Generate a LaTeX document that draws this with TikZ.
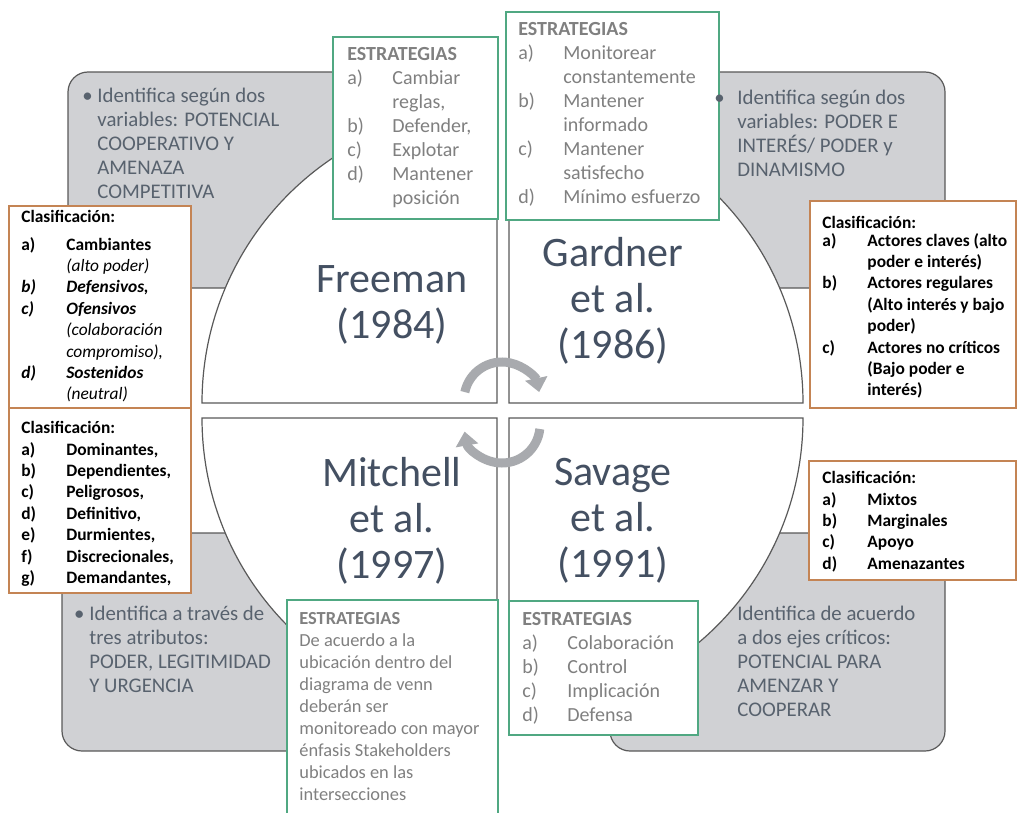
\documentclass[tikz,border=0pt]{standalone}
\usepackage{fontspec}
\setmainfont{Carlito}
\usetikzlibrary{arrows.meta}

\definecolor{panelgray}{RGB}{208,209,212}
\definecolor{edgegray}{RGB}{89,89,89}
\definecolor{stratgreen}{RGB}{80,168,130}
\definecolor{clasorange}{RGB}{196,132,84}
\definecolor{slatetext}{RGB}{88,98,110}
\definecolor{titletext}{RGB}{68,80,98}
\definecolor{strattext}{RGB}{128,128,128}
\definecolor{cyclegray}{RGB}{168,170,174}

\newcommand{\lbl}[1]{\makebox[22.5pt][l]{#1}}
\newcommand{\bul}[1]{\llap{•\hspace{#1}}}
\newcommand{\noteit}[1]{{\mdseries\itshape #1}}
\newcommand{\strongit}[1]{{\itshape #1}}

\tikzset{
    panel/.style={fill=panelgray, draw=edgegray, line width=0.6pt, rounded corners=10pt},
    quad/.style={fill=white, draw=edgegray, line width=0.6pt},
    stratbox/.style={fill=white, draw=stratgreen, line width=0.6pt},
    clasbox/.style={fill=white, draw=clasorange, line width=0.6pt},
    paneltext/.style={anchor=north west, inner sep=0pt, align=left, text=slatetext,
        font=\fontsize{10.4}{11.9}\selectfont},
    quadtitle/.style={anchor=north, inner sep=0pt, align=center, text=titletext,
        font=\fontsize{21}{23}\selectfont},
    strattext/.style={anchor=north west, inner sep=0pt, align=left, text=strattext,
        font=\fontsize{10}{12}\selectfont},
    clastext/.style={anchor=north west, inner sep=0pt, align=left, text=black,
        font=\fontsize{8.7}{10.7}\selectfont\bfseries},
    cyclearrow/.style={draw=cyclegray, line width=4.5pt, -{Triangle[length=7pt, width=11pt]}}
}

\begin{document}
\begin{tikzpicture}[x=0.5pt, y=-0.5pt]
    \useasboundingbox (0,0) rectangle (1018,813);

    % grey panels behind the circle
    \draw[panel] (68,72) rectangle (440,288);
    \draw[panel] (570,72) rectangle (945,288);
    \draw[panel] (62,533) rectangle (440,751);
    \draw[panel] (610,533) rectangle (945,751);

    % four quarters of the circle
    \foreach \cx/\cy/\s/\e/\r in {497/403/-90/-180/295, 509/403/-90/0/294, 497/418/180/90/295, 509/418/90/0/294} {
        \draw[quad] (\cx,\cy) -- ++(\s:\r) arc[start angle=\s, end angle=\e, radius=\r] -- cycle;
    }

    \node[quadtitle] (freeman) at (392,265) {Freeman\\(1984)};
    \node[quadtitle] (gardner) at (613,237) {Gardner\\et al.\\(1986)};
    \node[quadtitle] (mitchell) at (392,457) {Mitchell\\et al.\\(1997)};
    \node[quadtitle] (savage) at (613,458) {Savage\\et al.\\(1991)};

    % strategies
    \draw[stratbox] (333,37) rectangle (498,219);
    \draw[stratbox] (506,12) rectangle (719,220);
    \draw[stratbox] (287,600) rectangle (498,820);
    \draw[stratbox] (509,601) rectangle (698,735);

    \node[strattext] (freemanstrat) at (347,47) {\textbf{ESTRATEGIAS}\\\lbl{a)}Cambiar\\\lbl{}reglas,\\\lbl{b)}Defender,\\\lbl{c)}Explotar\\\lbl{d)}Mantener\\\lbl{}posición};
    \node[strattext] (gardnerstrat) at (518,22) {\textbf{ESTRATEGIAS}\\\lbl{a)}Monitorear\\\lbl{}constantemente\\\lbl{b)}Mantener\\\lbl{}informado\\\lbl{c)}Mantener\\\lbl{}satisfecho\\\lbl{d)}Mínimo esfuerzo};
    \node[strattext, font=\fontsize{9.2}{11}\selectfont] (mitchellstrat) at (299,612) {\textbf{ESTRATEGIAS}\\De acuerdo a la\\ubicación dentro del\\diagrama de venn\\deberán ser\\monitoreado con mayor\\énfasis Stakeholders\\ubicados en las\\intersecciones};
    \node[strattext] (savagestrat) at (522,612) {\textbf{ESTRATEGIAS}\\\lbl{a)}Colaboración\\\lbl{b)}Control\\\lbl{c)}Implicación\\\lbl{d)}Defensa};

    \node[paneltext] (freemantext) at (97,88) {\bul{2.3pt}Identifica según dos\\variables: POTENCIAL\\COOPERATIVO Y\\AMENAZA\\COMPETITIVA};
    \node[paneltext] (gardnertext) at (737,90) {\bul{6.3pt}Identifica según dos\\variables: PODER E\\INTERÉS/ PODER y\\DINAMISMO};
    \node[paneltext] (mitchelltext) at (89,606) {\bul{2.5pt}Identifica a través de\\tres atributos:\\PODER, LEGITIMIDAD\\Y URGENCIA};
    \node[paneltext] (savagetext) at (737,606) {Identifica de acuerdo\\a dos ejes críticos:\\POTENCIAL PARA\\AMENZAR Y\\COOPERAR};

    % classifications
    \draw[clasbox] (9,206) rectangle (191,408);
    \draw[clasbox] (9,408) rectangle (191,593);
    \draw[clasbox] (810,201) rectangle (1016,408);
    \draw[clasbox] (809,461) rectangle (1016,580);

    \node[clastext] (freemanclas) at (21,210) {Clasificación:\\[3pt]\lbl{a)}Cambiantes\\\lbl{}\noteit{(alto poder)}\\\lbl{\strongit{b)}}\strongit{Defensivos,}\\\lbl{\strongit{c)}}\strongit{Ofensivos}\\\lbl{}\noteit{(colaboración}\\\lbl{}\noteit{compromiso),}\\\lbl{\strongit{d)}}\strongit{Sostenidos}\\\lbl{}\noteit{(neutral)}};
    \node[clastext] (mitchellclas) at (21,421) {Clasificación:\\\lbl{a)}Dominantes,\\\lbl{b)}Dependientes,\\\lbl{c)}Peligrosos,\\\lbl{d)}Definitivo,\\\lbl{e)}Durmientes,\\\lbl{f)}Discrecionales,\\\lbl{g)}Demandantes,};
    \node[clastext] (gardnerclas) at (822,216) {Clasificación:\\[-2pt]\lbl{a)}Actores claves (alto\\\lbl{}poder e interés)\\\lbl{b)}Actores regulares\\\lbl{}(Alto interés y bajo\\\lbl{}poder)\\\lbl{c)}Actores no críticos\\\lbl{}(Bajo poder e\\\lbl{}interés)};
    \node[clastext] (savageclas) at (822,471) {Clasificación:\\\lbl{a)}Mixtos\\\lbl{b)}Marginales\\\lbl{c)}Apoyo\\\lbl{d)}Amenazantes};

    % cycle in the middle
    \coordinate (cycletop) at (502,400);
    \coordinate (cyclebottom) at (502,425);
    \draw[cyclearrow] ([shift={(-168:38)}]cycletop) arc[start angle=-168, end angle=-12, radius=38];
    \draw[cyclearrow] ([shift={(6:38)}]cyclebottom) arc[start angle=6, end angle=170, radius=38];
\end{tikzpicture}
\end{document}
